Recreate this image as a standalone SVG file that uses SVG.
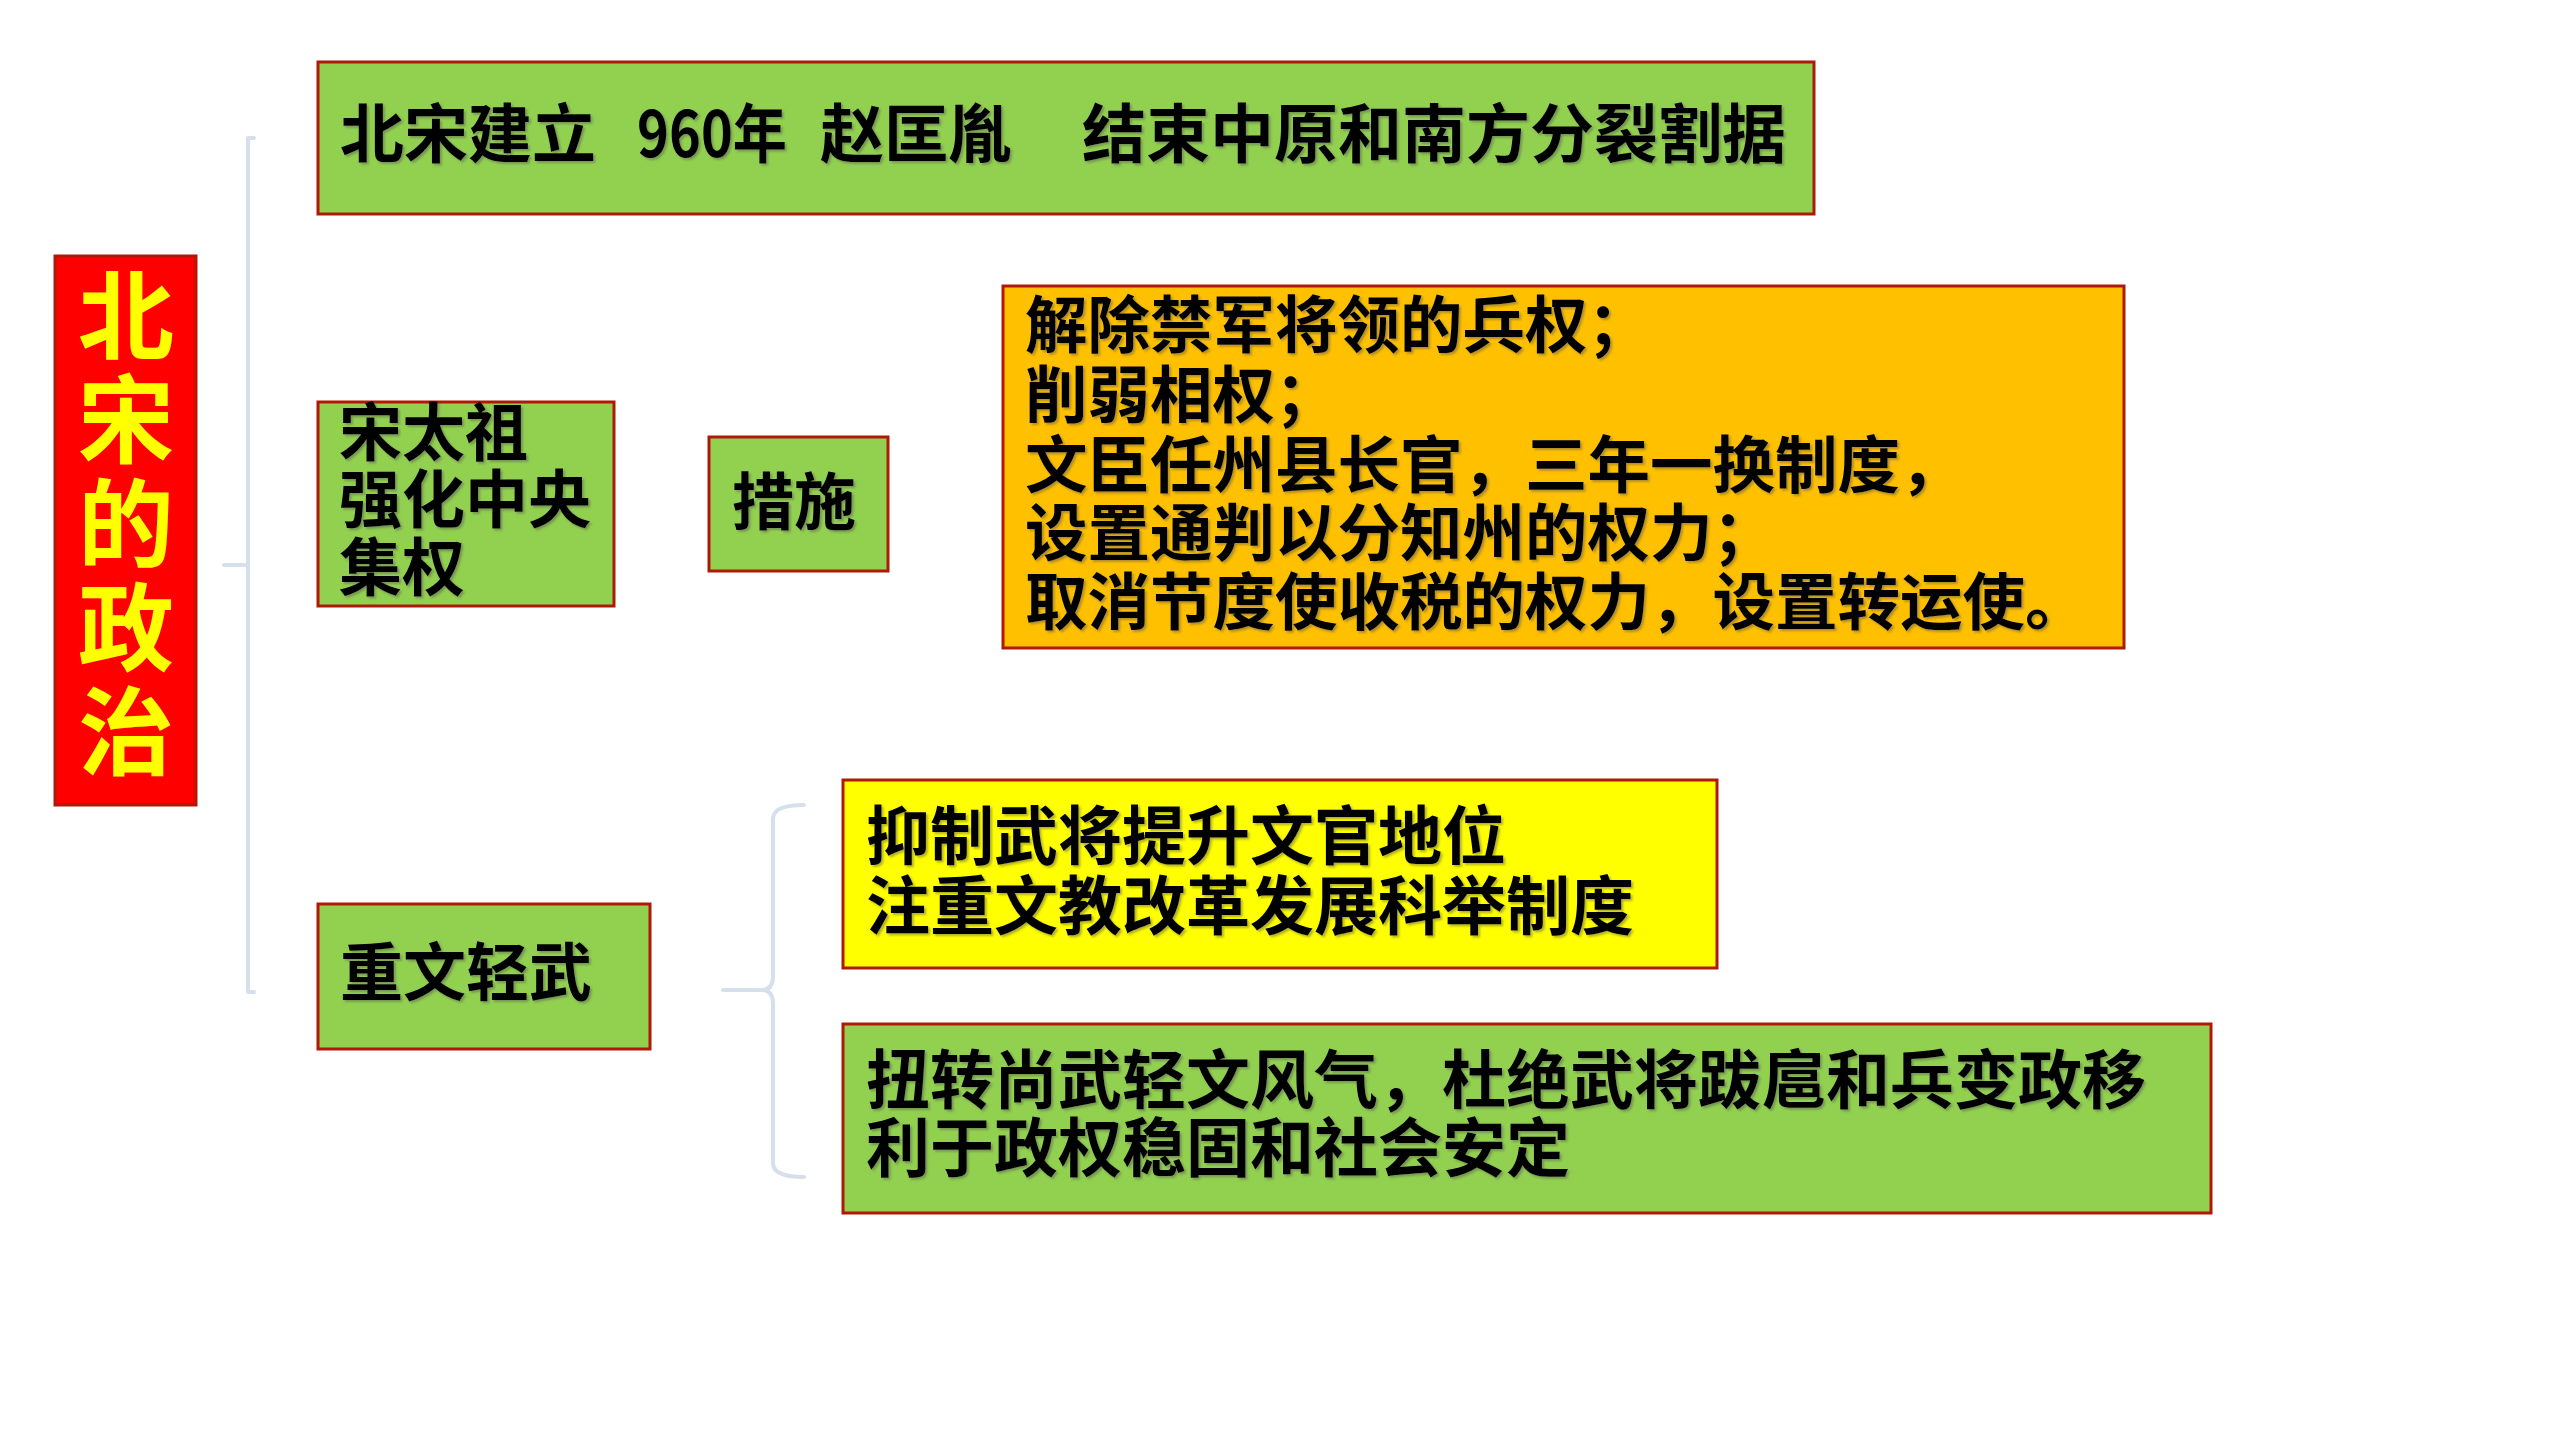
<svg xmlns="http://www.w3.org/2000/svg" width="2560" height="1440" viewBox="0 0 2560 1440">
<defs>
<style>
.box{stroke:#B01808;stroke-width:3}
.green{fill:#92D050}
.orange{fill:#FFC000}
.yellow{fill:#FFFF00}
.red{fill:#FF0000}
.t{font-family:"Noto Sans CJK SC","Noto Sans",sans-serif;font-weight:700;fill:#000;filter:url(#sh)}
.title{font-family:"Noto Sans CJK SC","Noto Sans",sans-serif;font-weight:700;fill:#FFFF00;font-size:96px}
.conn{fill:none;stroke:#D5E0EC;stroke-width:4;stroke-linecap:round;stroke-linejoin:round}
</style>
<filter id="sh" x="-5%" y="-20%" width="110%" height="140%">
<feDropShadow dx="2" dy="2" stdDeviation="1" flood-color="#555" flood-opacity="0.45"/>
</filter>
</defs>
<rect width="2560" height="1440" fill="#fff"/>
<g id="connectors">
<path class="conn" d="M254 138 L248 138 L248 992 L254 992 M224 565 L248 565"/>
<path class="conn" d="M804 805 Q774 805 773 818 L773 978 Q772 990 762 990 L723 990 M762 990 Q772 990 773 1002 L773 1164 Q774 1177 804 1177"/>
</g>
<g id="root">
<rect class="box red" x="55" y="256" width="141" height="549"/>
<text class="title" text-anchor="middle"><tspan x="126" y="351">北</tspan><tspan x="126" y="455">宋</tspan><tspan x="126" y="559">的</tspan><tspan x="126" y="663">政</tspan><tspan x="126" y="767">治</tspan></text>
</g>
<g id="n-founding">
<rect class="box green" x="318" y="62" width="1496" height="152"/>
<text class="t" font-size="64" y="157"><tspan x="340">北宋建立</tspan><tspan x="637" textLength="150" lengthAdjust="spacingAndGlyphs">960年</tspan><tspan x="820">赵匡胤</tspan><tspan x="1082">结束中原和南方分裂割据</tspan></text>
</g>
<g id="n-taizu">
<rect class="box green" x="318" y="402" width="296" height="204"/>
<text class="t" font-size="63"><tspan x="339" y="455">宋太祖</tspan><tspan x="339" y="522">强化中央</tspan><tspan x="339" y="590">集权</tspan></text>
</g>
<g id="n-measures">
<rect class="box green" x="709" y="437" width="179" height="134"/>
<text class="t" font-size="62" x="732" y="525">措施</text>
</g>
<g id="n-measures-list">
<rect class="box orange" x="1003" y="286" width="1121" height="362"/>
<text class="t" font-size="62.5"><tspan x="1025" y="348">解除禁军将领的兵权；</tspan><tspan x="1025" y="418">削弱相权；</tspan><tspan x="1025" y="488">文臣任州县长官，三年一换制度，</tspan><tspan x="1025" y="556">设置通判以分知州的权力；</tspan><tspan x="1025" y="625">取消节度使收税的权力，设置转运使。</tspan></text>
</g>
<g id="n-wen">
<rect class="box green" x="318" y="904" width="332" height="145"/>
<text class="t" font-size="63" x="340" y="995">重文轻武</text>
</g>
<g id="n-wen-1">
<rect class="box yellow" x="843" y="780" width="874" height="188"/>
<text class="t" font-size="64"><tspan x="866" y="859">抑制武将提升文官地位</tspan><tspan x="866" y="929">注重文教改革发展科举制度</tspan></text>
</g>
<g id="n-wen-2">
<rect class="box green" x="843" y="1024" width="1368" height="189"/>
<text class="t" font-size="64"><tspan x="866" y="1103">扭转尚武轻文风气，杜绝武将跋扈和兵变政移</tspan><tspan x="866" y="1171">利于政权稳固和社会安定</tspan></text>
</g>
</svg>
